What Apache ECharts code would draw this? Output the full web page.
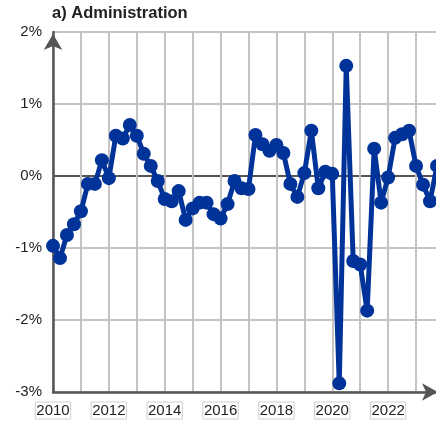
<!DOCTYPE html>
<html>
<head>
<meta charset="utf-8">
<script src="https://cdn.jsdelivr.net/npm/echarts@6/dist/echarts.min.js"></script>
<style>
html,body{margin:0;padding:0;background:#fff;}
#chart{width:436px;height:425px;}
</style>
</head>
<body>
<div id="chart"></div>
<script>
const titleText = 'a) Administration';
const periods = [
  '2010 Q1','2010 Q2','2010 Q3','2010 Q4',
  '2011 Q1','2011 Q2','2011 Q3','2011 Q4',
  '2012 Q1','2012 Q2','2012 Q3','2012 Q4',
  '2013 Q1','2013 Q2','2013 Q3','2013 Q4',
  '2014 Q1','2014 Q2','2014 Q3','2014 Q4',
  '2015 Q1','2015 Q2','2015 Q3','2015 Q4',
  '2016 Q1','2016 Q2','2016 Q3','2016 Q4',
  '2017 Q1','2017 Q2','2017 Q3','2017 Q4',
  '2018 Q1','2018 Q2','2018 Q3','2018 Q4',
  '2019 Q1','2019 Q2','2019 Q3','2019 Q4',
  '2020 Q1','2020 Q2','2020 Q3','2020 Q4',
  '2021 Q1','2021 Q2','2021 Q3','2021 Q4',
  '2022 Q1','2022 Q2','2022 Q3','2022 Q4',
  '2023 Q1','2023 Q2','2023 Q3','2023 Q4'
];
const values = [
  -0.97, -1.14, -0.82, -0.67,
  -0.49, -0.11, -0.11,  0.22,
  -0.03,  0.56,  0.52,  0.71,
   0.56,  0.31,  0.14, -0.07,
  -0.32, -0.35, -0.21, -0.61,
  -0.45, -0.37, -0.37, -0.53,
  -0.59, -0.39, -0.07, -0.17,
  -0.18,  0.57,  0.44,  0.35,
   0.43,  0.32, -0.11, -0.29,
   0.04,  0.63, -0.17,  0.06,
   0.03, -2.88,  1.53, -1.18,
  -1.23, -1.87,  0.38, -0.37,
  -0.02,  0.53,  0.58,  0.63,
   0.14, -0.12, -0.35,  0.14
];
const yTicks = [-3, -2, -1, 0, 1, 2];

const font = '"Liberation Sans", Arial, sans-serif';
const gridColor = '#c4c4c4';
const axisColor = '#555555';
const splitColors = yTicks.map(v => v === 0 ? axisColor : gridColor);

const chart = echarts.init(document.getElementById('chart'), null, {renderer: 'canvas'});
chart.setOption({
  animation: false,
  backgroundColor: '#ffffff',
  title: {
    text: titleText,
    left: 52, top: 5,
    padding: 0,
    textStyle: {fontFamily: font, fontSize: 16.5, fontWeight: 'bold', color: '#222'}
  },
  grid: {left: 53, top: 32, width: 384, height: 360, containLabel: false, outerBoundsMode: 'none'},
  xAxis: {
    type: 'category',
    data: periods,
    boundaryGap: false,
    axisLine: {
      onZero: false,
      lineStyle: {color: axisColor, width: 2.5},
      symbol: ['none', 'arrow'],
      symbolSize: [13, 16],
      symbolOffset: [0, 1]
    },
    axisTick: {show: false},
    splitLine: {show: true, interval: 3, lineStyle: {color: gridColor, width: 2}},
    axisLabel: {
      interval: 7,
      formatter: v => v.slice(0, 4),
      fontFamily: font, fontSize: 15, color: '#222',
      margin: 10,
      borderColor: '#cfcfcf', borderWidth: 1,
      padding: [1, 1, 0, 1],
      lineHeight: 16
    }
  },
  yAxis: {
    type: 'value',
    min: -3, max: 2, interval: 1,
    axisLine: {
      show: true, onZero: false,
      lineStyle: {color: axisColor, width: 2.5},
      symbol: ['none', 'arrow'],
      symbolSize: [14, 16],
      symbolOffset: [0, -2]
    },
    axisTick: {show: false},
    splitLine: {show: true, lineStyle: {color: splitColors, width: 2}},
    axisLabel: {
      formatter: '{value}%',
      fontFamily: font, fontSize: 15, color: '#222',
      margin: 11
    }
  },
  series: [{
    type: 'line',
    data: values,
    clip: false,
    symbol: 'circle',
    symbolSize: 14,
    showAllSymbol: true,
    lineStyle: {color: '#003399', width: 5},
    itemStyle: {color: '#003399'},
    z: 5
  }]
});
</script>
</body>
</html>
